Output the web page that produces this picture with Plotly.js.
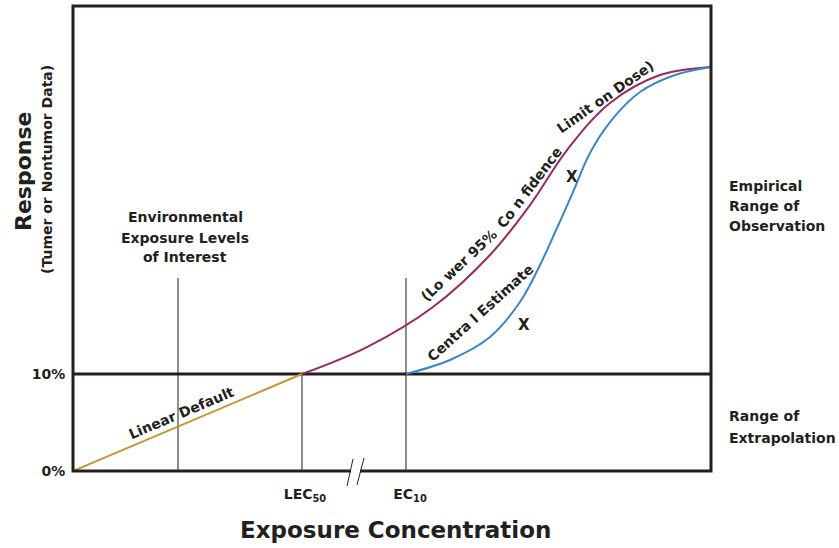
<!DOCTYPE html>
<html><head><meta charset="utf-8">
<script src="https://cdn.plot.ly/plotly-3.0.1.min.js"></script>
<style>body{margin:0;background:#fff}#c{width:839px;height:548px}</style>
</head><body><div id="c"></div>
<script>
// ---- data (x: exposure units 0-10, y: response %) ----
const linearX = [0, 3.589];
const linearY = [0, 10];
const lowerCLX = [3.589, 4.608, 5.643, 6.536, 7.163, 7.743, 8.417, 9.201, 10.0];
const lowerCLY = [10.0, 12.78, 16.91, 22.27, 27.42, 33.09, 37.94, 40.82, 41.65];
const centralX = [5.219, 5.909, 6.536, 7.006, 7.320, 7.586, 7.837, 8.103, 8.417, 8.887, 9.436, 10.0];
const centralY = [10.0, 11.44, 13.81, 17.42, 21.24, 25.05, 28.76, 32.78, 35.98, 39.07, 40.82, 41.65];
const refLineX = [1.646, 3.589, 5.219];
const refLineTop = [19.9, 10, 19.9];
const tenPctX = [0, 10];
const tenPctY = [10, 10];
const yTickVals = [0, 10];
const yTickText = ['0%', '10%'];
const xTickVals = [3.636, 5.282];
const xTickText = ['LEC<sub>50</sub>', 'EC<sub>10</sub>'];

// ---- layout helpers (pixel -> paper) ----
const L = 73, R = 711, T = 6, B = 471;
const PX = p => (p - L) / (R - L);
const PY = p => (B - p) / (B - T);
const F = '"DejaVu Sans", sans-serif';
const font = (s, c) => ({family: F, size: s, color: c || '#231f20', weight: 700});

const traces = [];
refLineX.forEach((x, i) => traces.push({x: [x, x], y: [0, refLineTop[i]], mode: 'lines',
  line: {color: '#231f20', width: 1}, hoverinfo: 'skip'}));
traces.push({x: tenPctX, y: tenPctY, mode: 'lines', line: {color: '#231f20', width: 3}, hoverinfo: 'skip'});
traces.push({x: linearX, y: linearY, mode: 'lines', line: {color: '#c8962e', width: 2}});
traces.push({x: lowerCLX, y: lowerCLY, mode: 'lines', line: {color: '#9c2a5c', width: 2, shape: 'spline', smoothing: 1}});
traces.push({x: centralX, y: centralY, mode: 'lines', line: {color: '#3a87c8', width: 2, shape: 'spline', smoothing: 1}});

const ann = (txt, px, py, size, opts) => Object.assign({text: txt, xref: 'paper', yref: 'paper',
  x: PX(px), y: PY(py), xanchor: 'center', yanchor: 'middle', showarrow: false, font: font(size)}, opts || {});

const annotations = [
  ann('Environmental', 185, 217, 14),
  ann('Exposure Levels', 185, 238, 14),
  ann('of Interest', 185, 257, 14),
  ann('Linear Default', 181, 413, 14, {textangle: -23}),
  ann('(Lo wer 95%', 459, 265, 14, {textangle: -43}),
  ann('Co n fidence', 529, 188, 14, {textangle: -53}),
  ann('Limit on Dose)', 605, 97, 14, {textangle: -35}),
  ann('Centra l Estimate', 480, 313, 14, {textangle: -42}),
  ann('X', 572, 177, 15),
  ann('X', 524, 325, 15),
  ann('Empirical', 727, 186, 14, {xanchor: 'left'}),
  ann('Range of', 727, 206, 14, {xanchor: 'left'}),
  ann('Observation', 727, 226, 14, {xanchor: 'left'}),
  ann('Range of', 727, 416, 14, {xanchor: 'left'}),
  ann('Extrapolation', 727, 438, 14, {xanchor: 'left'}),
  ann('Response', 23, 171, 22, {textangle: -90}),
  ann('(Tumer or Nontumor Data)', 47, 170, 14, {textangle: -90}),
  ann('Exposure Concentration', 395, 530, 23)
];

const shapes = [
  {type: 'rect', xref: 'paper', yref: 'paper', x0: 0, x1: 1, y0: 0, y1: 1, line: {color: '#231f20', width: 3}},
  {type: 'rect', xref: 'paper', yref: 'paper', x0: PX(351), x1: PX(360), y0: PY(467), y1: PY(475), fillcolor: '#fff', line: {width: 0}},
  {type: 'line', xref: 'paper', yref: 'paper', x0: PX(347), x1: PX(353), y0: PY(486), y1: PY(459), line: {color: '#231f20', width: 1}},
  {type: 'line', xref: 'paper', yref: 'paper', x0: PX(357), x1: PX(364), y0: PY(485), y1: PY(458), line: {color: '#231f20', width: 1}}
];

const layout = {
  width: 839, height: 548, showlegend: false,
  margin: {l: L, r: 839 - R, t: T, b: 548 - B, pad: 0},
  paper_bgcolor: '#fff', plot_bgcolor: '#fff',
  xaxis: {range: [0, 10], showgrid: false, zeroline: false, showline: false, ticks: 'outside',
    ticklen: 10, tickcolor: 'rgba(0,0,0,0)',
    tickvals: xTickVals, ticktext: xTickText, tickfont: font(14), fixedrange: true},
  yaxis: {range: [0, 47.94], showgrid: false, zeroline: false, showline: false, ticks: 'outside',
    ticklen: 4, tickcolor: 'rgba(0,0,0,0)', tickvals: yTickVals, ticktext: yTickText, tickfont: font(14), fixedrange: true},
  annotations: annotations, shapes: shapes
};
Plotly.newPlot('c', traces, layout, {staticPlot: true});
</script></body></html>
